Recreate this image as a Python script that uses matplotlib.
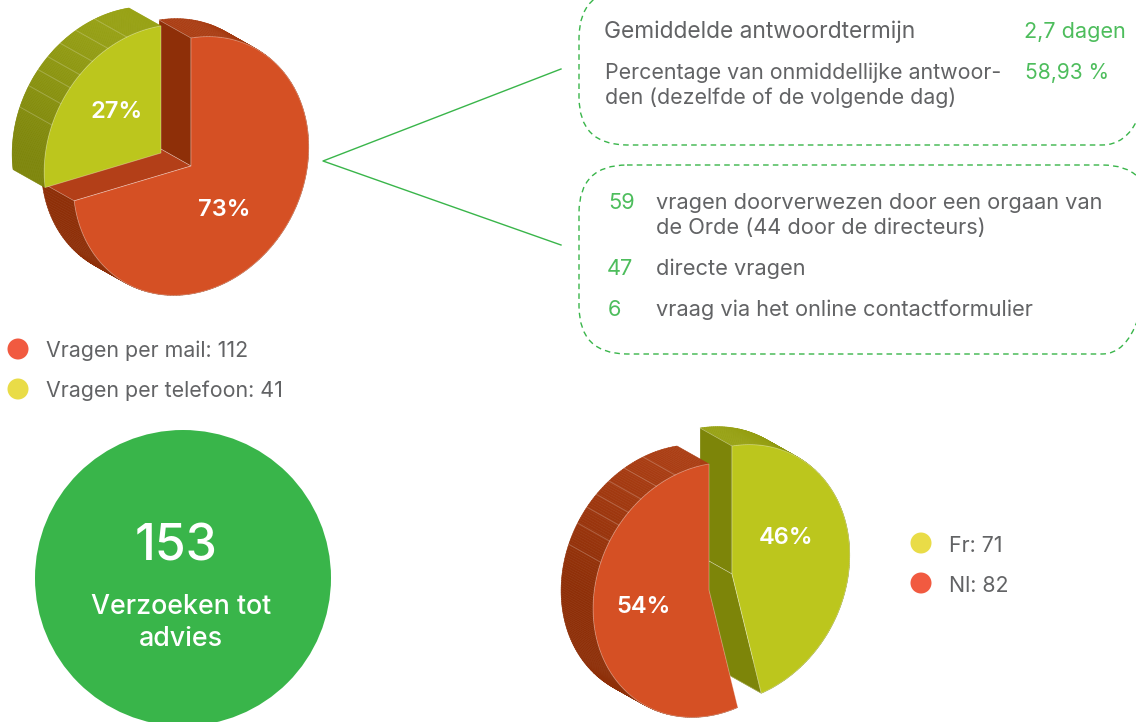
import numpy as np
import matplotlib
matplotlib.use("Agg")
import matplotlib.pyplot as plt
from matplotlib.colors import to_rgb
from matplotlib.patches import Circle, FancyBboxPatch, Polygon

plt.rcParams["font.family"] = ["Inter", "DejaVu Sans"]

# data
channel_labels = ["Vragen per mail: 112", "Vragen per telefoon: 41"]
channel_shares = [73, 27]
language_labels = ["Fr: 71", "Nl: 82"]
language_shares = [46, 54]
total_requests = "153"
total_caption = ["Verzoeken tot", "advies"]
term_labels = ["Gemiddelde antwoordtermijn"]
term_values = ["2,7 dagen", "58,93 %"]
percent_lines = ["Percentage van onmiddellijke antwoor-", "den (dezelfde of de volgende dag)"]
source_counts = ["59", "47", "6"]
source_lines = [
    "vragen doorverwezen door een orgaan van",
    "de Orde (44 door de directeurs)",
    "directe vragen",
    "vraag via het online contactformulier",
]

GREEN = "#39B54A"
GREEN_TEXT = "#4DBD5C"
GREY = "#626365"
RED_FACE, RED_LIGHT, RED_DARK = "#D55024", "#AB3E14", "#8E2F08"
OLIVE_FACE, OLIVE_LIGHT, OLIVE_DARK = "#BCC61D", "#98A213", "#7D8509"
EDGE = (1, 1, 1, 0.35)
DEPTH = np.array([-32.0, -18.0])
RIM_TICKS = [17, 27, 36, 44, 51, 59, 69]


def face_point(center, radius, angle):
    """Project an angle (degrees clockwise from 12 o'clock) on the tilted disc."""
    angle = np.radians(angle)
    ux, uy = np.sin(angle), np.cos(angle)
    x = center[0] + 0.92 * radius * ux
    y = center[1] - radius * uy - 0.148 * radius * ux
    return np.column_stack([x, y])


def mix(light, dark, amount):
    return tuple((1 - amount) * a + amount * b for a, b in zip(to_rgb(light), to_rgb(dark)))


def draw_slice(axis, center, radius, start, stop, light, dark, ticks=()):
    """Draw the rim of one extruded slice and return the arc of its face."""
    center = np.asarray(center, dtype=float)
    angles = np.linspace(start, stop, 181)
    arc = face_point(center, radius, angles)

    for index in range(len(angles) - 1):
        quad = [arc[index], arc[index + 1], arc[index + 1] + DEPTH, arc[index] + DEPTH]
        up = np.cos(np.radians(angles[index]))
        amount = 1 - np.clip(up, 0, 1) ** 1.5
        color = mix(light, dark, amount)
        axis.add_patch(Polygon(quad, closed=True, facecolor=color, edgecolor=color, linewidth=0.4))

    for tick in ticks:
        point = face_point(center, radius, tick)[0]
        axis.plot([point[0], point[0] + DEPTH[0]], [point[1], point[1] + DEPTH[1]],
                  color=(1, 1, 1, 0.22), linewidth=0.7)

    return arc


def draw_wall(axis, center, point, color):
    center = np.asarray(center, dtype=float)
    quad = [center, point, point + DEPTH, center + DEPTH]
    axis.add_patch(Polygon(quad, closed=True, facecolor=color, edgecolor=EDGE, linewidth=0.5))


def draw_face(axis, center, arc, color):
    outline = np.vstack([[center], arc])
    axis.add_patch(Polygon(outline, closed=True, facecolor=color, edgecolor=EDGE, linewidth=0.6))


def label(axis, x, y, text, color=GREY, size=15.7, **kwargs):
    axis.text(x, y + 2, text, color=color, fontsize=size, ha=kwargs.pop("ha", "left"),
              va="center", **kwargs)


figure, axis = plt.subplots(figsize=(11.36, 7.22), dpi=100)
figure.subplots_adjust(0, 0, 1, 1)
axis.set_xlim(0, 1136)
axis.set_ylim(722, 0)
axis.axis("off")

# connector and dashed boxes
axis.plot([561, 323, 561], [69, 161, 245], color=GREEN, linewidth=1.0)
for top, height in [(-10, 155), (165, 189)]:
    axis.add_patch(FancyBboxPatch(
        (579 + 48, top + 48), 571 - 96, height - 96,
        boxstyle="round,pad=48,rounding_size=48",
        facecolor="none", edgecolor=GREEN, linewidth=1.0, linestyle=(0, (4, 3)),
    ))

# channel pie
red_stop = 360 * channel_shares[0] / sum(channel_shares)
red_center = (191, 166)
olive_center = (161, 153)
red_arc = draw_slice(axis, red_center, 128, 0, red_stop, RED_LIGHT, RED_DARK)
draw_wall(axis, red_center, face_point(red_center, 128, 0)[0], RED_DARK)
draw_wall(axis, red_center, face_point(red_center, 128, red_stop)[0], "#B33F18")
olive_arc = draw_slice(axis, olive_center, 127, red_stop, 360, OLIVE_LIGHT, OLIVE_DARK,
                       ticks=[360 - tick for tick in RIM_TICKS])
draw_face(axis, olive_center, olive_arc, OLIVE_FACE)
draw_face(axis, red_center, red_arc, RED_FACE)

# language pie
olive_stop = 360 * language_shares[0] / sum(language_shares)
olive_center = (732, 574)
red_center = (709, 590)
olive_arc = draw_slice(axis, olive_center, 128, 0, olive_stop, OLIVE_LIGHT, OLIVE_DARK)
draw_wall(axis, olive_center, face_point(olive_center, 128, 0)[0], OLIVE_DARK)
draw_wall(axis, olive_center, face_point(olive_center, 128, olive_stop)[0], OLIVE_DARK)
red_arc = draw_slice(axis, red_center, 126, olive_stop, 360, RED_LIGHT, RED_DARK,
                     ticks=[360 - tick for tick in RIM_TICKS])
draw_face(axis, olive_center, olive_arc, OLIVE_FACE)
draw_face(axis, red_center, red_arc, RED_FACE)

# pie labels
for share, x, y in [(channel_shares[0], 224, 208), (channel_shares[1], 117, 110),
                    (language_shares[0], 786, 536), (language_shares[1], 644, 605)]:
    label(axis, x, y, f"{share}%", color="white", size=17, fontweight="semibold", ha="center")

# legends
for text, color, y in zip(channel_labels, ["#F15A40", "#E9DC47"], [349, 389]):
    axis.add_patch(Circle((18, y), 10.5, facecolor=color, edgecolor="none"))
    label(axis, 46, y, text, size=15.4)
for text, color, y in zip(language_labels, ["#E9DC47", "#F15A40"], [543, 583]):
    axis.add_patch(Circle((921, y), 10.5, facecolor=color, edgecolor="none"))
    label(axis, 949, y + 1, text, size=15.4)

# total circle
axis.add_patch(Circle((183, 578), 148, facecolor=GREEN, edgecolor="none"))
label(axis, 176, 545, total_requests, color="white", size=36, fontweight="medium", ha="center")
label(axis, 181, 605, total_caption[0], color="white", size=19.3, fontweight="medium", ha="center")
label(axis, 181, 637, total_caption[1], color="white", size=19.3, fontweight="medium", ha="center")

# response terms
label(axis, 604, 30, term_labels[0], size=16.4)
label(axis, 1024, 30, term_values[0], color=GREEN_TEXT, size=15.6)
label(axis, 605, 71, percent_lines[0], size=15.4)
label(axis, 605, 96, percent_lines[1], size=15.4)
label(axis, 1025, 71, term_values[1], color=GREEN_TEXT, size=15.1)

# request sources
for count, x, y in zip(source_counts, [608, 607, 608], [201, 267, 308]):
    label(axis, x, y, count, color=GREEN_TEXT)
for line, y in zip(source_lines, [201, 226, 267, 308]):
    label(axis, 656, y, line)

figure.savefig("out.png", dpi=100)
plt.close(figure)
